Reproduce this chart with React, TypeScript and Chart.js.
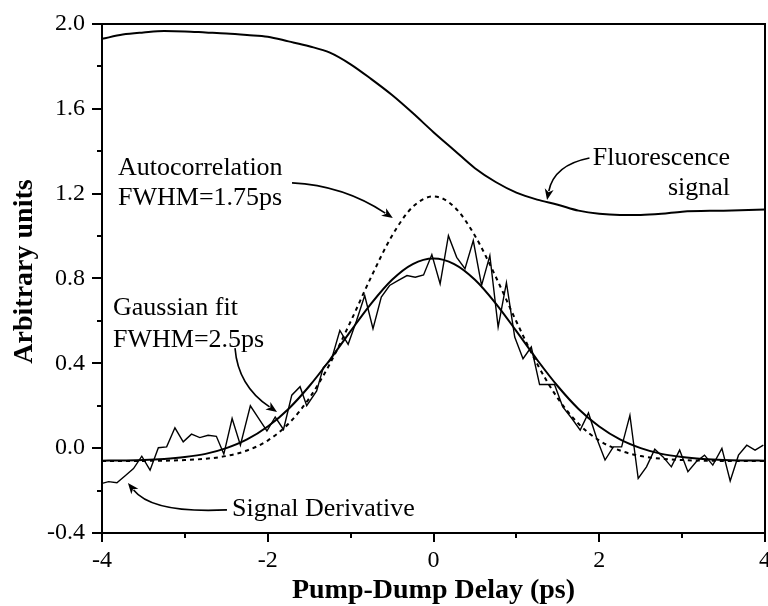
import React, { useEffect, useRef } from "react";
import { Chart, registerables } from "chart.js";

Chart.register(...registerables);

// ---------- data ----------
const fluorX = [-4, -3.75, -3.5, -3.25, -3, -2.75, -2.5, -2.25, -2, -1.75, -1.5, -1.25, -1, -0.75, -0.5, -0.25, 0, 0.25, 0.5, 0.75, 1, 1.25, 1.5, 1.75, 2, 2.25, 2.5, 2.75, 3, 3.5, 4];
const fluorY = [1.93, 1.95, 1.96, 1.967, 1.965, 1.96, 1.955, 1.948, 1.94, 1.918, 1.895, 1.865, 1.81, 1.74, 1.665, 1.58, 1.49, 1.405, 1.32, 1.255, 1.205, 1.172, 1.148, 1.12, 1.105, 1.1, 1.1, 1.105, 1.115, 1.12, 1.125];

const fitX = [-4, -3.75, -3.5, -3.25, -3, -2.75, -2.5, -2.25, -2, -1.75, -1.5, -1.25, -1, -0.75, -0.5, -0.25, 0, 0.25, 0.5, 0.75, 1, 1.25, 1.5, 1.75, 2, 2.25, 2.5, 2.75, 3, 3.25, 3.5, 3.75, 4];
const fitY = [-0.059, -0.058, -0.056, -0.051, -0.042, -0.027, 0.0, 0.041, 0.102, 0.185, 0.292, 0.417, 0.552, 0.683, 0.794, 0.868, 0.894, 0.868, 0.794, 0.683, 0.552, 0.417, 0.292, 0.185, 0.102, 0.041, 0.0, -0.027, -0.042, -0.051, -0.056, -0.058, -0.059];

const acX = [-4, -3.75, -3.5, -3.25, -3, -2.75, -2.5, -2.25, -2, -1.75, -1.5, -1.25, -1, -0.75, -0.5, -0.25, 0, 0.25, 0.5, 0.75, 1, 1.25, 1.5, 1.75, 2, 2.25, 2.5, 2.75, 3, 3.25, 3.5, 3.75, 4];
const acY = [-0.06, -0.06, -0.06, -0.059, -0.056, -0.05, -0.037, -0.011, 0.036, 0.115, 0.235, 0.398, 0.597, 0.809, 1.002, 1.138, 1.187, 1.138, 1.002, 0.809, 0.597, 0.398, 0.235, 0.115, 0.036, -0.011, -0.037, -0.05, -0.056, -0.059, -0.06, -0.06, -0.06];

const derivX = [-4.0, -3.92, -3.82, -3.72, -3.62, -3.52, -3.42, -3.32, -3.22, -3.12, -3.02, -2.92, -2.82, -2.72, -2.62, -2.53, -2.43, -2.33, -2.21, -2.11, -2.01, -1.91, -1.81, -1.71, -1.61, -1.53, -1.41, -1.33, -1.23, -1.13, -1.03, -0.93, -0.83, -0.73, -0.63, -0.53, -0.43, -0.32, -0.22, -0.12, -0.02, 0.08, 0.18, 0.28, 0.38, 0.48, 0.58, 0.68, 0.78, 0.88, 0.98, 1.08, 1.18, 1.28, 1.38, 1.46, 1.56, 1.67, 1.77, 1.87, 1.97, 2.07, 2.17, 2.27, 2.37, 2.47, 2.57, 2.67, 2.77, 2.87, 2.97, 3.07, 3.17, 3.27, 3.37, 3.48, 3.58, 3.68, 3.78, 3.88, 3.98];
const derivY = [-0.166, -0.158, -0.163, -0.13, -0.096, -0.038, -0.104, 0.002, 0.006, 0.096, 0.03, 0.066, 0.05, 0.061, 0.056, -0.028, 0.14, 0.014, 0.2, 0.14, 0.081, 0.147, 0.088, 0.25, 0.29, 0.2, 0.27, 0.38, 0.42, 0.555, 0.49, 0.6, 0.72, 0.563, 0.712, 0.767, 0.79, 0.814, 0.806, 0.817, 0.913, 0.775, 1.002, 0.9, 0.846, 0.979, 0.767, 0.908, 0.571, 0.78, 0.524, 0.422, 0.477, 0.3, 0.3, 0.3, 0.194, 0.14, 0.085, 0.166, 0.046, -0.056, 0.006, 0.006, 0.155, -0.143, -0.088, -0.005, -0.041, -0.088, -0.009, -0.111, -0.064, -0.033, -0.08, -0.001, -0.155, -0.033, 0.014, -0.009, 0.014];

const xMajorTicks = [-4, -2, 0, 2, 4];
const xMinorTicks = [-3, -1, 1, 3];
const yMajorTicks = [-0.4, 0, 0.4, 0.8, 1.2, 1.6, 2.0];
const yMinorTicks = [-0.2, 0.2, 0.6, 1.0, 1.4, 1.8];

const xTitle = "Pump-Dump Delay (ps)";
const yTitle = "Arbitrary units";

// annotation texts (anchored in data coordinates)
const labelTexts = [
  { text: "Autocorrelation", x: -3.807, y: 1.288, align: "left" },
  { text: "FWHM=1.75ps", x: -3.807, y: 1.147, align: "left" },
  { text: "Gaussian fit", x: -3.867, y: 0.628, align: "left" },
  { text: "FWHM=2.5ps", x: -3.867, y: 0.477, align: "left" },
  { text: "Fluorescence", x: 3.578, y: 1.335, align: "right" },
  { text: "signal", x: 3.578, y: 1.194, align: "right" },
  { text: "Signal Derivative", x: -2.431, y: -0.32, align: "left" },
];
// curved arrows: start, control, end (data coordinates)
const arrows = [
  [[-1.707, 1.251], [-1.086, 1.239], [-0.491, 1.085]],
  [[-2.395, 0.472], [-2.359, 0.294], [-1.888, 0.171]],
  [[1.882, 1.368], [1.454, 1.335], [1.37, 1.17]],
  [[-2.492, -0.291], [-3.391, -0.308], [-3.687, -0.164]],
];

const FONT = '"Liberation Serif", "Times New Roman", serif';

const decorPlugin = {
  id: "decor",
  afterDraw(chart: any) {
    const { ctx, chartArea: a } = chart;
    const xs = chart.scales.x;
    const ys = chart.scales.y;
    ctx.save();
    ctx.strokeStyle = "#000";
    ctx.fillStyle = "#000";
    ctx.lineWidth = 2;
    ctx.strokeRect(a.left, a.top, a.right - a.left, a.bottom - a.top);

    ctx.beginPath();
    xMajorTicks.forEach((v) => {
      const p = Math.round(xs.getPixelForValue(v));
      ctx.moveTo(p, a.bottom);
      ctx.lineTo(p, a.bottom + 9);
    });
    xMinorTicks.forEach((v) => {
      const p = Math.round(xs.getPixelForValue(v));
      ctx.moveTo(p, a.bottom);
      ctx.lineTo(p, a.bottom + 5);
    });
    yMajorTicks.forEach((v) => {
      const p = Math.round(ys.getPixelForValue(v));
      ctx.moveTo(a.left, p);
      ctx.lineTo(a.left - 10, p);
    });
    yMinorTicks.forEach((v) => {
      const p = Math.round(ys.getPixelForValue(v));
      ctx.moveTo(a.left, p);
      ctx.lineTo(a.left - 5, p);
    });
    ctx.stroke();

    // axis titles
    ctx.font = `bold 28px ${FONT}`;
    ctx.textAlign = "center";
    ctx.textBaseline = "alphabetic";
    ctx.fillText(xTitle, (a.left + a.right) / 2, 598);
    ctx.save();
    ctx.translate(32, (a.top + a.bottom) / 2 - 7);
    ctx.rotate(-Math.PI / 2);
    ctx.fillText(yTitle, 0, 0);
    ctx.restore();

    // annotations
    ctx.font = `26px ${FONT}`;
    labelTexts.forEach((l) => {
      ctx.textAlign = l.align as CanvasTextAlign;
      ctx.fillText(l.text, xs.getPixelForValue(l.x), ys.getPixelForValue(l.y));
    });

    ctx.lineWidth = 1.6;
    arrows.forEach(([s, c, e]) => {
      const sx = xs.getPixelForValue(s[0]), sy = ys.getPixelForValue(s[1]);
      const cx = xs.getPixelForValue(c[0]), cy = ys.getPixelForValue(c[1]);
      const ex = xs.getPixelForValue(e[0]), ey = ys.getPixelForValue(e[1]);
      const dx = ex - cx, dy = ey - cy;
      const len = Math.hypot(dx, dy) || 1;
      const ux = dx / len, uy = dy / len;
      const hl = 11, hw = 4.5;
      const bx = ex - ux * hl, by = ey - uy * hl;
      ctx.beginPath();
      ctx.moveTo(sx, sy);
      ctx.quadraticCurveTo(cx, cy, bx + ux * 2, by + uy * 2);
      ctx.stroke();
      ctx.beginPath();
      ctx.moveTo(ex, ey);
      ctx.lineTo(bx - uy * hw, by + ux * hw);
      ctx.lineTo(bx + ux * 3, by + uy * 3);
      ctx.lineTo(bx + uy * hw, by - ux * hw);
      ctx.closePath();
      ctx.fill();
    });
    ctx.restore();
  },
};

function pts(xs: number[], ys: number[]) {
  return xs.map((x, i) => ({ x, y: ys[i] }));
}

export default function App() {
  const ref = useRef<HTMLCanvasElement | null>(null);
  useEffect(() => {
    if (!ref.current) return;
    Chart.defaults.font.family = FONT;
    Chart.defaults.color = "#000";
    const chart = new Chart(ref.current, {
      type: "line",
      data: {
        datasets: [
          {
            label: "Fluorescence signal",
            data: pts(fluorX, fluorY),
            borderColor: "#000",
            borderWidth: 2,
            pointRadius: 0,
            cubicInterpolationMode: "monotone",
            fill: false,
          },
          {
            label: "Autocorrelation",
            data: pts(acX, acY),
            borderColor: "#000",
            borderWidth: 2,
            borderDash: [4, 4],
            pointRadius: 0,
            cubicInterpolationMode: "monotone",
            fill: false,
          },
          {
            label: "Gaussian fit",
            data: pts(fitX, fitY),
            borderColor: "#000",
            borderWidth: 2,
            pointRadius: 0,
            cubicInterpolationMode: "monotone",
            fill: false,
          },
          {
            label: "Signal Derivative",
            data: pts(derivX, derivY),
            borderColor: "#000",
            borderWidth: 1.4,
            pointRadius: 0,
            tension: 0,
            fill: false,
          },
        ],
      },
      options: {
        responsive: false,
        animation: false,
        devicePixelRatio: 1,
        layout: { padding: { left: 0, right: 3, top: 24, bottom: 0 } },
        plugins: { legend: { display: false }, tooltip: { enabled: false } },
        scales: {
          x: {
            type: "linear",
            min: -4,
            max: 4,
            grid: { display: false, drawTicks: false },
            border: { display: false },
            ticks: {
              stepSize: 2,
              padding: 13,
              font: { size: 24, family: FONT },
              color: "#000",
              maxRotation: 0,
              callback: (v: any) => (xMajorTicks.includes(Number(v)) ? String(v) : ""),
            },
            afterFit: (s: any) => {
              s.height = 73;
              s.paddingLeft = 0;
              s.paddingRight = 0;
            },
          },
          y: {
            type: "linear",
            min: -0.4,
            max: 2.0,
            grid: { display: false, drawTicks: false },
            border: { display: false },
            ticks: {
              stepSize: 0.4,
              padding: 17,
              font: { size: 24, family: FONT },
              color: "#000",
              callback: (v: any) => {
                const n = Number(v);
                return (Math.abs(n) < 1e-9 ? 0 : n).toFixed(1);
              },
            },
            afterFit: (s: any) => {
              s.width = 102;
              s.paddingTop = 0;
              s.paddingBottom = 0;
            },
          },
        },
      },
      plugins: [decorPlugin],
    } as any);
    return () => chart.destroy();
  }, []);
  return (
    <div style={{ position: "absolute", left: 0, top: 0, width: 768, height: 606, background: "#fff" }}>
      <canvas ref={ref} width={768} height={606} />
    </div>
  );
}
